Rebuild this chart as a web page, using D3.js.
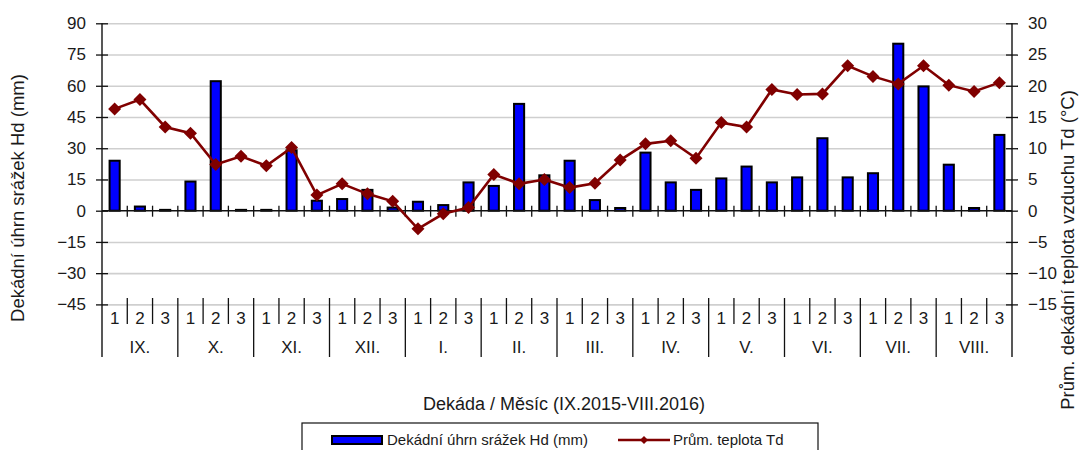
<!DOCTYPE html>
<html>
<head>
<meta charset="utf-8">
<script src="https://cdn.jsdelivr.net/npm/d3@7"></script>
<style>
  body { margin: 0; background: #fff; }
  text { font-family: "Liberation Sans", Arial, sans-serif; fill: #1a1a1a; }
</style>
</head>
<body>
<div id="chart"></div>
<script>
var width = 1080;
var height = 450;
var plot = { left: 102, right: 1012, top: 23.3, bottom: 304.4 };

var months = ["IX.", "X.", "XI.", "XII.", "I.", "II.", "III.", "IV.", "V.", "VI.", "VII.", "VIII."];
var decades = ["1", "2", "3"];
// dekadni uhrn srazek (mm)
var precip = [24, 2, 0.4, 14, 62.2, 0.4, 0.4, 29, 4.8, 5.6, 10, 1.5,
              4.3, 2.7, 13.6, 11.9, 51.3, 17, 24, 5.1, 1.3, 27.9, 13.6, 10,
              15.5, 21.2, 13.6, 16, 34.8, 16, 18, 80.2, 59.7, 22.1, 1.3, 36.4];
// prum. teplota (°C)
var temp = [16.3, 17.8, 13.4, 12.4, 7.4, 8.7, 7.2, 10.1, 2.5, 4.3, 2.7, 1.5,
            -2.9, -0.5, 0.5, 5.8, 4.3, 5.0, 3.7, 4.4, 8.1, 10.7, 11.2, 8.4,
            14.1, 13.4, 19.4, 18.6, 18.7, 23.2, 21.5, 20.3, 23.2, 20.1, 19.1, 20.5];
var leftTicks = [-45, -30, -15, 0, 15, 30, 45, 60, 75, 90];
var rightTicks = [-15, -10, -5, 0, 5, 10, 15, 20, 25, 30];

var idx = d3.range(precip.length);

var svg = d3.select("#chart").append("svg")
    .attr("width", width)
    .attr("height", height);

var x = d3.scaleBand()
    .domain(idx)
    .range([plot.left, plot.right])
    .paddingInner(0.6)
    .paddingOuter(0.3);
var step = x.step();
function cx(i) { return x(i) + x.bandwidth() / 2; }
function edge(k) { return x(0) - x.step() * x.paddingOuter() + k * step; }

var yL = d3.scaleLinear().domain([-45, 90]).range([plot.bottom, plot.top]);
var yR = d3.scaleLinear().domain([-15, 30]).range([plot.bottom, plot.top]);

// gridlines
svg.append("g")
    .attr("transform", "translate(" + plot.left + ",0)")
    .call(d3.axisLeft(yL).tickValues(leftTicks.filter(function (d) { return d != 0; }))
        .tickSize(-(plot.right - plot.left)).tickFormat(""))
    .call(function (g) {
        g.select(".domain").remove();
        g.selectAll("line").attr("stroke", "#cfcfcf").attr("stroke-width", 1.6);
    });

// left axis
svg.append("g")
    .attr("transform", "translate(" + plot.left + ",0)")
    .call(d3.axisLeft(yL).tickValues(leftTicks).tickSize(6).tickSizeOuter(0).tickPadding(10))
    .call(function (g) {
        g.select(".domain").remove();
        g.selectAll(".tick line").attr("x1", 6).attr("stroke", "#111").attr("stroke-width", 1.3);
        g.selectAll("text").style("font-size", "17px").attr("fill", "#1a1a1a");
    });

// right axis
svg.append("g")
    .attr("transform", "translate(" + plot.right + ",0)")
    .call(d3.axisRight(yR).tickValues(rightTicks).tickSize(6).tickSizeOuter(0).tickPadding(10))
    .call(function (g) {
        g.select(".domain").remove();
        g.selectAll(".tick line").attr("x1", -6).attr("stroke", "#111").attr("stroke-width", 1.3);
        g.selectAll("text").style("font-size", "17px").attr("fill", "#1a1a1a");
    });

// vertical axis lines
[plot.left, plot.right].forEach(function (xx) {
    svg.append("line")
        .attr("x1", xx).attr("x2", xx)
        .attr("y1", plot.top).attr("y2", 357)
        .attr("stroke", "#111").attr("stroke-width", 1.4);
});

// bars
svg.append("g").selectAll("rect")
    .data(precip)
    .enter()
    .append("rect")
    .attr("x", function (d, i) { return x(i); })
    .attr("y", function (d) { return yL(d); })
    .attr("width", x.bandwidth())
    .attr("height", function (d) { return yL(0) - yL(d); })
    .attr("fill", "#0000ff")
    .attr("stroke", "#000")
    .attr("stroke-width", 2);

// zero line with decade ticks
var y0 = yL(0);
svg.append("line")
    .attr("x1", plot.left).attr("x2", plot.right)
    .attr("y1", y0).attr("y2", y0)
    .attr("stroke", "#111").attr("stroke-width", 1.4);
svg.append("g").selectAll("line")
    .data(d3.range(1, precip.length))
    .enter()
    .append("line")
    .attr("x1", function (k) { return edge(k); })
    .attr("x2", function (k) { return edge(k); })
    .attr("y1", y0 - 5).attr("y2", y0 + 6)
    .attr("stroke", "#111").attr("stroke-width", 1.3);

// temperature line
var line = d3.line()
    .x(function (d, i) { return cx(i); })
    .y(function (d) { return yR(d); });
svg.append("path")
    .datum(temp)
    .attr("d", line)
    .attr("fill", "none")
    .attr("stroke", "#800000")
    .attr("stroke-width", 2.6);
svg.append("g").selectAll("path")
    .data(temp)
    .enter()
    .append("path")
    .attr("transform", function (d, i) { return "translate(" + cx(i) + "," + yR(d) + ")"; })
    .attr("d", "M0,-6.5L6.5,0L0,6.5L-6.5,0Z")
    .attr("fill", "#800000");

// category axis (decade / month)
svg.append("g").selectAll("line")
    .data(d3.range(1, precip.length))
    .enter()
    .append("line")
    .attr("x1", function (k) { return edge(k); })
    .attr("x2", function (k) { return edge(k); })
    .attr("y1", 298)
    .attr("y2", function (k) { return k % 3 == 0 ? 357 : 324; })
    .attr("stroke", "#111").attr("stroke-width", 1.3);

svg.append("g").selectAll("text")
    .data(idx)
    .enter()
    .append("text")
    .attr("x", function (i) { return cx(i); })
    .attr("y", 324)
    .attr("text-anchor", "middle")
    .style("font-size", "17px")
    .text(function (i) { return decades[i % 3]; });

svg.append("g").selectAll("text")
    .data(months)
    .enter()
    .append("text")
    .attr("x", function (d, m) { return (edge(m * 3) + edge(m * 3 + 3)) / 2; })
    .attr("y", 353)
    .attr("text-anchor", "middle")
    .style("font-size", "17px")
    .text(function (d) { return d; });

// titles
svg.append("text")
    .attr("transform", "translate(24,198) rotate(-90)")
    .attr("text-anchor", "middle")
    .style("font-size", "18.5px")
    .text("Dekádní úhrn srážek Hd (mm)");
svg.append("text")
    .attr("transform", "translate(1074,250) rotate(-90)")
    .attr("text-anchor", "middle")
    .style("font-size", "18.5px")
    .text("Prům. dekádní teplota vzduchu Td (°C)");
svg.append("text")
    .attr("x", 564)
    .attr("y", 410)
    .attr("text-anchor", "middle")
    .style("font-size", "18px")
    .text("Dekáda / Měsíc  (IX.2015-VIII.2016)");

// legend
var legend = svg.append("g");
legend.append("rect")
    .attr("x", 302).attr("y", 423)
    .attr("width", 516).attr("height", 40)
    .attr("fill", "#fff").attr("stroke", "#111").attr("stroke-width", 1.2);
legend.append("rect")
    .attr("x", 332).attr("y", 436)
    .attr("width", 50).attr("height", 8)
    .attr("fill", "#0000ff").attr("stroke", "#000").attr("stroke-width", 2);
legend.append("text")
    .attr("x", 387).attr("y", 445)
    .style("font-size", "15px")
    .text("Dekádní úhrn srážek Hd (mm)");
legend.append("line")
    .attr("x1", 618).attr("x2", 670)
    .attr("y1", 440).attr("y2", 440)
    .attr("stroke", "#800000").attr("stroke-width", 2.4);
legend.append("path")
    .attr("transform", "translate(644,440)")
    .attr("d", "M0,-4L4,0L0,4L-4,0Z")
    .attr("fill", "#800000");
legend.append("text")
    .attr("x", 673).attr("y", 445)
    .style("font-size", "15px")
    .text("Prům. teplota Td");
</script>
</body>
</html>
